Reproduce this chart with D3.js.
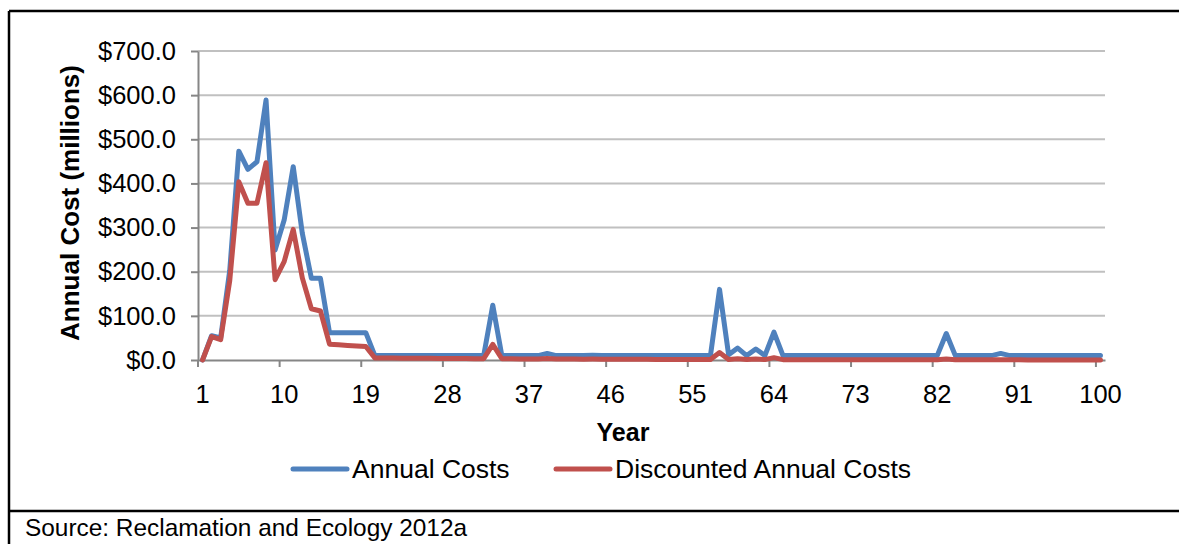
<!DOCTYPE html>
<html>
<head>
<meta charset="utf-8">
<script src="https://cdn.jsdelivr.net/npm/d3@7"></script>
<style>
  html, body { margin: 0; padding: 0; background: #fff; }
  svg { display: block; }
  text { font-family: "Liberation Sans", Arial, sans-serif; fill: #000; }
</style>
</head>
<body>
<svg id="chart" width="1179" height="544"></svg>
<script>
// Annual costs by year, $ millions
const years = d3.range(1, 101);
const annualCosts = [
  0, 55, 50, 203, 473, 432, 449, 589, 249, 317,
  438, 287, 185, 185, 62, 62, 62, 62, 62, 10,
  10, 10, 10, 10, 10, 10, 10, 10, 10, 10,
  10, 10, 124, 10, 10, 10, 10, 10, 15, 10,
  10, 10, 10, 11, 10, 10, 10, 10, 10, 10,
  10, 10, 10, 10, 10, 10, 10, 160, 12, 27,
  10, 25, 10, 63, 10, 10, 10, 10, 10, 10,
  10, 10, 10, 10, 10, 10, 10, 10, 10, 10,
  10, 10, 60, 10, 10, 10, 10, 10, 15, 10,
  10, 10, 10, 10, 10, 10, 10, 10, 10, 10
];
const discountedCosts = [
  0, 53, 46, 180, 404, 355, 355, 447, 182, 223,
  296, 186, 116, 111, 35.8, 34.4, 33.1, 31.8, 30.6, 4.75,
  4.56, 4.39, 4.22, 4.06, 3.90, 3.75, 3.61, 3.47, 3.33, 3.21,
  3.08, 2.96, 35.3, 2.74, 2.64, 2.53, 2.44, 2.34, 3.38, 2.17,
  2.08, 2.00, 1.93, 2.04, 1.78, 1.71, 1.65, 1.58, 1.52, 1.46,
  1.41, 1.35, 1.30, 1.25, 1.20, 1.16, 1.11, 17.1, 1.23, 2.67,
  0.95, 2.29, 0.88, 5.32, 0.81, 0.78, 0.75, 0.72, 0.69, 0.67,
  0.64, 0.62, 0.59, 0.57, 0.55, 0.53, 0.51, 0.49, 0.47, 0.45,
  0.43, 0.42, 2.41, 0.39, 0.37, 0.36, 0.34, 0.33, 0.48, 0.30,
  0.29, 0.28, 0.27, 0.26, 0.25, 0.24, 0.23, 0.22, 0.21, 0.21
];
const xTickYears = [1, 10, 19, 28, 37, 46, 55, 64, 73, 82, 91, 100];
const yTickValues = [0, 100, 200, 300, 400, 500, 600, 700];
const seriesNames = ["Annual Costs", "Discounted Annual Costs"];
const seriesColors = ["#4F81BD", "#C0504D"];

const svg = d3.select("#chart");
const plot = { left: 198, right: 1105, top: 51, bottom: 360 };

const x = d3.scaleBand().domain(years).range([plot.left, plot.right]).paddingInner(0).paddingOuter(0);
const bw = x.bandwidth();
const cx = d => x(d) + bw / 2;
const y = d3.scaleLinear().domain([0, 700]).range([plot.bottom, plot.top]);

// Outer frame
const frame = svg.append("g").attr("stroke", "#000").attr("stroke-width", 2.5);
frame.append("line").attr("x1", 9).attr("x2", 1179).attr("y1", 11).attr("y2", 11);
frame.append("line").attr("x1", 9).attr("x2", 9).attr("y1", 11).attr("y2", 544);
frame.append("line").attr("x1", 9).attr("x2", 1179).attr("y1", 511).attr("y2", 511);

// Gridlines
svg.append("g")
  .selectAll("line")
  .data(yTickValues.filter(v => v > 0))
  .join("line")
  .attr("x1", plot.left).attr("x2", plot.right)
  .attr("y1", d => y(d)).attr("y2", d => y(d))
  .attr("stroke", "#c0c0c0").attr("stroke-width", 2);

// Y axis
const yAxis = svg.append("g")
  .attr("transform", `translate(${plot.left},0)`)
  .call(d3.axisLeft(y).tickValues(yTickValues).tickFormat(d => "$" + d.toFixed(1))
    .tickSize(7).tickSizeOuter(0).tickPadding(15));
yAxis.select(".domain").attr("stroke", "#868686").attr("stroke-width", 2);
yAxis.selectAll(".tick line").attr("stroke", "#868686").attr("stroke-width", 2);
yAxis.selectAll(".tick text").attr("font-size", 25.5).attr("font-family", "Liberation Sans, Arial, sans-serif").attr("fill", "#000");

// X axis: labels centred on categories, tick marks on category boundaries
const xAxis = svg.append("g")
  .attr("transform", `translate(0,${plot.bottom})`)
  .call(d3.axisBottom(x).tickValues(xTickYears).tickSize(7).tickSizeOuter(0).tickPadding(18));
xAxis.select(".domain").attr("stroke", "#868686").attr("stroke-width", 2);
xAxis.selectAll(".tick line")
  .attr("x1", -bw / 2).attr("x2", -bw / 2)
  .attr("stroke", "#868686").attr("stroke-width", 2);
xAxis.selectAll(".tick text").attr("font-size", 25.5).attr("font-family", "Liberation Sans, Arial, sans-serif").attr("fill", "#000");

// Axis titles
svg.append("text")
  .attr("x", 623).attr("y", 441)
  .attr("text-anchor", "middle")
  .attr("font-size", 25).attr("font-weight", "bold")
  .text("Year");
svg.append("text")
  .attr("transform", "translate(79,203) rotate(-90)")
  .attr("text-anchor", "middle")
  .attr("font-size", 26).attr("font-weight", "bold")
  .text("Annual Cost (millions)");

// Series lines
const line = d3.line().x((d, i) => cx(years[i])).y(d => y(d));
[annualCosts, discountedCosts].forEach((vals, k) => {
  svg.append("path")
    .datum(vals)
    .attr("d", line)
    .attr("fill", "none")
    .attr("stroke", seriesColors[k])
    .attr("stroke-width", 5)
    .attr("stroke-linejoin", "round")
    .attr("stroke-linecap", "round");
});

// Legend
const legendItems = [
  { name: seriesNames[0], color: seriesColors[0], x0: 293 },
  { name: seriesNames[1], color: seriesColors[1], x0: 556 }
];
const lg = svg.append("g");
legendItems.forEach(it => {
  lg.append("line")
    .attr("x1", it.x0).attr("x2", it.x0 + 54)
    .attr("y1", 469).attr("y2", 469)
    .attr("stroke", it.color).attr("stroke-width", 5).attr("stroke-linecap", "round");
  lg.append("text")
    .attr("x", it.x0 + 59).attr("y", 478)
    .attr("font-size", 26.5)
    .text(it.name);
});

// Source note
svg.append("text")
  .attr("x", 25).attr("y", 536)
  .attr("font-size", 24.4)
  .text("Source: Reclamation and Ecology 2012a");
</script>
</body>
</html>
